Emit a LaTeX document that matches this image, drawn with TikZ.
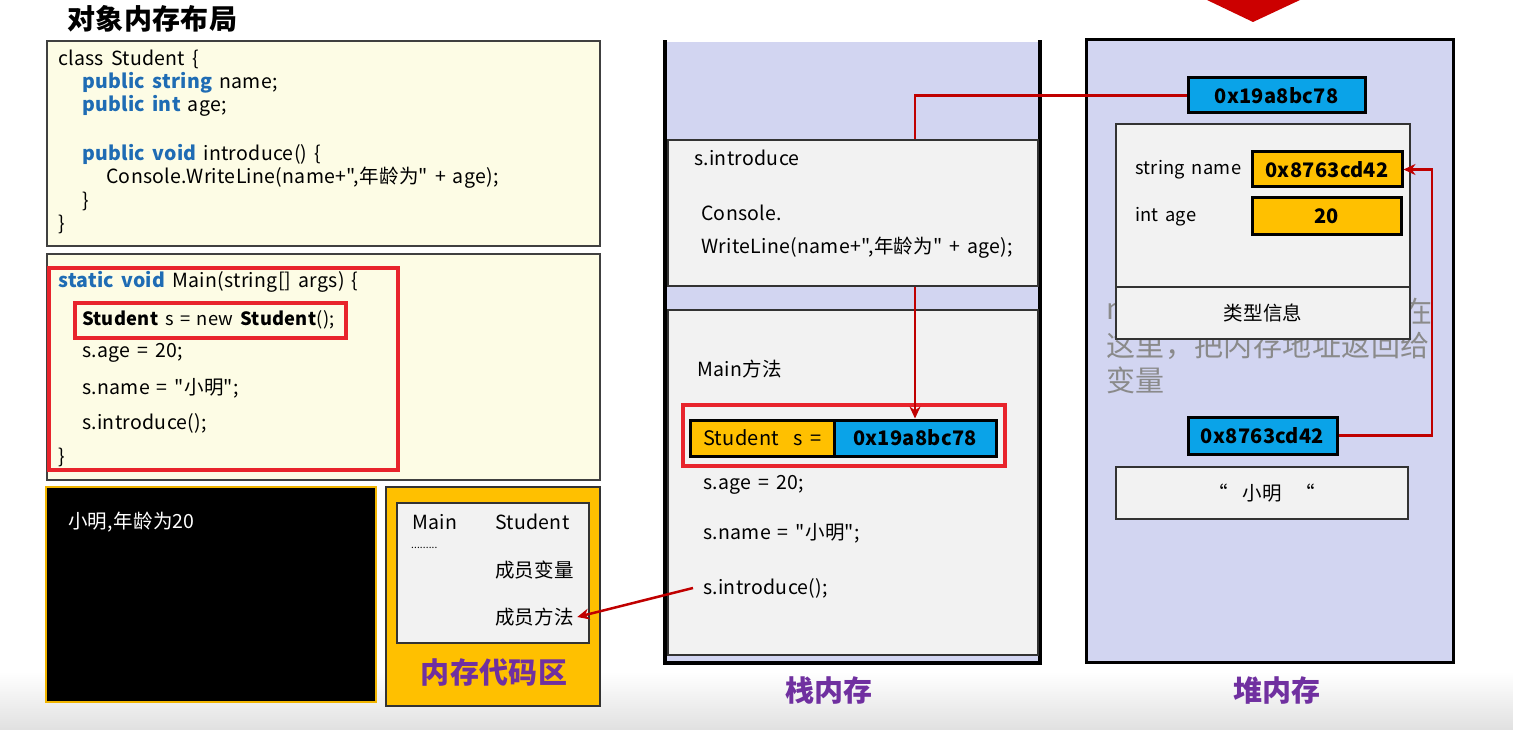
\documentclass[tikz,border=0pt]{standalone}
\usepackage{fontspec}
\setmainfont{Noto Sans CJK SC}[Ligatures=TeXOff, WordSpace=1.5, LetterSpace=1.5]
\usetikzlibrary{fit,arrows.meta}
\definecolor{codebg}{HTML}{FDFCE5}
\definecolor{kw}{HTML}{1F6CB4}
\definecolor{selred}{HTML}{E8242C}
\definecolor{lav}{HTML}{D2D5F1}
\definecolor{framegray}{HTML}{F2F2F2}
\definecolor{orangec}{HTML}{FFC000}
\definecolor{bluec}{HTML}{0AA3E8}
\definecolor{linered}{HTML}{C00000}
\definecolor{purp}{HTML}{7030A0}
\definecolor{consoleb}{HTML}{F0B400}
\definecolor{greytext}{HTML}{8A8A8A}
\tikzset{
  code/.style={anchor=west, inner sep=0pt, font=\fontsize{19.5}{22}\selectfont},
  smallcode/.style={anchor=west, inner sep=0pt, font=\fontsize{18.3}{22}\selectfont},
  codebox/.style={inner sep=0pt, fill=codebg, draw=black!75, line width=1.5pt},
  selbox/.style={inner sep=0pt, draw=selred, line width=4pt},
  graybox/.style={inner sep=0pt, fill=framegray, draw=black!80, line width=1.5pt},
  cell/.style={inner sep=0pt, draw=black, line width=3pt},
  celltext/.style={inner sep=0pt, font=\bfseries\fontsize{20}{22}\selectfont},
  biglabel/.style={inner sep=0pt, text=purp, font=\bfseries\fontsize{29}{32}\selectfont},
  greyline/.style={inner sep=0pt, text=greytext, font=\fontsize{29}{32}\selectfont},
  connline/.style={draw=linered, line width=2.5pt},
  conn/.style={connline, -{Stealth[length=12pt,width=11pt]}},
}
\begin{document}
\begin{tikzpicture}[x=1pt,y=-1pt]
\useasboundingbox (0,0) rectangle (1513,730);
\fill[white] (0,0) rectangle (1513,730);
\shade[top color=white, bottom color=black!12] (0,672) rectangle (1513,730);
% top red arrow fragment
\fill[red!80!black] (1207,0) -- (1253,22) -- (1300,0) -- cycle;

% title
\node[anchor=west, inner sep=0pt, font=\bfseries\fontsize{28}{30}\selectfont] (title) at (67,19) {对象内存布局};

% class box
\node[codebox, fit={(47,41) (600,246)}] (cls) {};
\node[code] (c1) at (58,59) {class Student \{};
\node[code] (c2) at (82,83) {\textcolor{kw}{\bfseries public string} name;};
\node[code] (c3) at (82,106) {\textcolor{kw}{\bfseries public int} age;};
\node[code] (c4) at (82,154) {\textcolor{kw}{\bfseries public void} introduce() \{};
\node[code] (c5) at (106,178) {Console.WriteLine(name+",年龄为" + age);};
\node[code] (c6) at (82,201) {\}};
\node[code] (c7) at (58,224) {\}};

% main box
\node[codebox, fit={(47,254) (600,480)}] (mainb) {};
\node[selbox, fit={(49,268) (398,470)}] (mainsel) {};
\node[selbox, fit={(75,303) (346,338)}] (newsel) {};
\node[code] (m1) at (58,282) {\textcolor{kw}{\bfseries static void} Main(string[] args) \{};
\node[smallcode] (m2) at (82,320) {\textbf{Student} s = new \textbf{Student}();};
\node[code] (m3) at (82,353) {s.age = 20;};
\node[code] (m4) at (82,388) {s.name = "小明";};
\node[code] (m5) at (82,423) {s.introduce();};
\node[code] (m6) at (58,457) {\}};

% console
\node[inner sep=0pt, fill=black, draw=consoleb, line width=2pt, fit={(46,487) (376,702)}] (console) {};
\node[code, text=white] (out) at (68,522) {小明,年龄为20};

% code area
\node[inner sep=0pt, fill=orangec, draw=black!80, line width=1.5pt, fit={(386,487) (600,706)}] (codearea) {};
\node[graybox, fit={(397,503) (589,643)}] (classes) {};
\node[code] (kmain) at (412,522) {Main};
\node[code] (kstu) at (495,522) {Student};
\node[code, font=\fontsize{10}{12}\selectfont] (kdots) at (411,548) {.........};
\node[code] (kvar) at (495,570) {成员变量};
\node[code] (kmeth) at (495,617) {成员方法};
\node[biglabel] (lcode) at (494,672) {内存代码区};

% stack
\node[inner sep=0pt, fill=lav, fit={(665,42) (1040,663)}] (stack) {};
\draw[line width=4pt, line cap=rect] (stack.north west) -- (stack.south west) -- (stack.south east) -- (stack.north east);
\node[graybox, fit={(668,140) (1038,286)}] (frame1) {};
\node[graybox, fit={(668,310) (1038,655)}] (frame2) {};
\node[code] (f1a) at (694,158) {s.introduce};
\node[code] (f1b) at (701,213) {Console.};
\node[code] (f1c) at (701,248) {WriteLine(name+",年龄为" + age);};
\node[code] (f2a) at (697,369) {Main方法};
\node[selbox, fit={(683,405) (1005,466)}] (varsel) {};
\node[cell, fill=orangec, fit={(690,420) (834,456)}] (cellA) {};
\node[cell, fill=bluec, fit={(834,420) (996,456)}] (cellB) {};
\node[code, font=\fontsize{20}{22}\selectfont] (cellAt) at (703,438) {Student\ \ s =};
\node[celltext] (cellBt) at (cellB.center) {0x19a8bc78};
\node[code] (f2b) at (703,485) {s.age = 20;};
\node[code] (f2c) at (703,533) {s.name = "小明";};
\node[code] (f2d) at (703,588) {s.introduce();};
\node[biglabel] (lstack) at (829,690) {栈内存};

% heap
\node[inner sep=0pt, fill=lav, draw=black, line width=3pt, fit={(1086,40) (1453,662)}] (heap) {};
\node[greyline, anchor=west] (g1a) at (1106,311) {m};
\node[greyline, anchor=east] (g1b) at (1433,311) {在};
\node[greyline, anchor=west] (g2) at (1106,346) {这里，把内存地址返回给};
\node[greyline, anchor=west] (g3) at (1106,380) {变量};
\node[cell, fill=bluec, fit={(1188,78) (1365,113)}] (addr1) {};
\node[celltext] (addr1t) at (addr1.center) {0x19a8bc78};
\node[graybox, fit={(1116,124) (1410,287)}] (obj) {};
\node[graybox, fit={(1116,287) (1410,339)}] (typeinfo) {};
\node[inner sep=0pt, font=\fontsize{19.5}{22}\selectfont] (typet) at (typeinfo.center) {类型信息};
\node[smallcode] (sname) at (1135,170) {string name};
\node[smallcode] (iage) at (1135,217) {int age};
\node[cell, fill=orangec, fit={(1252,152) (1402,187)}] (fname) {};
\node[celltext] (fnamet) at (fname.center) {0x8763cd42};
\node[cell, fill=orangec, fit={(1252,198) (1401,235)}] (fage) {};
\node[celltext] (faget) at (fage.center) {20};
\node[cell, fill=bluec, fit={(1188,417) (1337,454)}] (addr2) {};
\node[celltext] (addr2t) at (addr2.center) {0x8763cd42};
\node[graybox, fit={(1116,467) (1408,519)}] (strobj) {};
\node[inner sep=0pt, font=\fontsize{19.5}{22}\selectfont] (strt) at (strobj.center) {“\ \ 小明\ \ “};
\node[biglabel] (lheap) at (1277,690) {堆内存};

% connectors
\coordinate (hx) at (1432,0);
\draw[connline] (addr1.west) -| (cellB.north |- frame1.north);
\draw[conn] (cellB.north |- frame1.south) -- (cellB.north);
\draw[conn] (addr2.east) -- (addr2.east -| hx) |- (fname.east);
\draw[conn] ([xshift=-10pt]f2d.west) -- ([xshift=3pt]kmeth.east);
\end{tikzpicture}
\end{document}
